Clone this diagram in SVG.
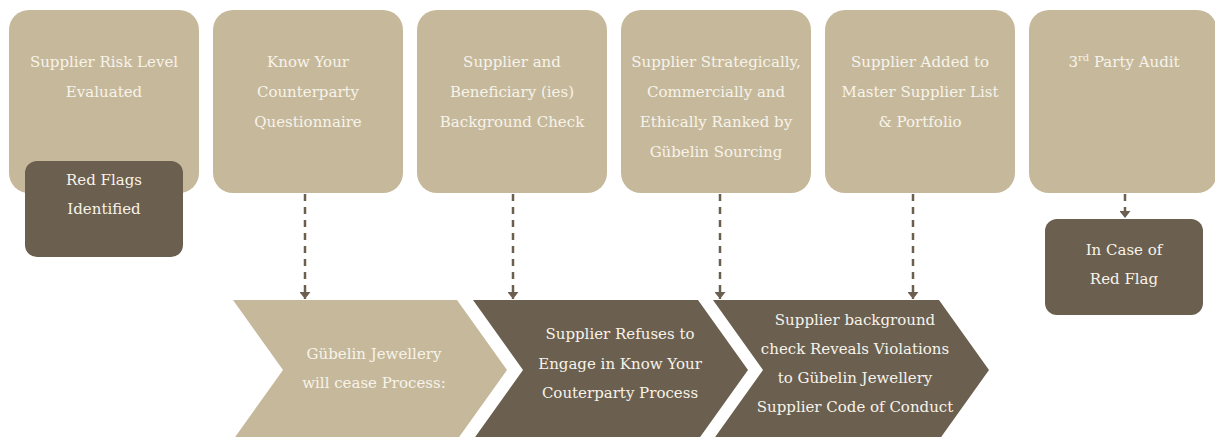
<svg xmlns="http://www.w3.org/2000/svg" width="1215" height="437" viewBox="0 0 1215 437">
<defs>
<style>
.tan{fill:#c6b99b}
.dark{fill:#6b5f4f}
.t{font-family:"DejaVu Serif","Liberation Serif",serif;font-size:15px;fill:#f7f3ea;text-anchor:middle}
.conn{stroke:#6b5f4f;stroke-width:2.5;stroke-dasharray:7 6;fill:none}
</style>
<marker id="arr" viewBox="0 0 7 11" refX="7" refY="5.5" markerWidth="7" markerHeight="11" markerUnits="userSpaceOnUse" orient="auto">
<path d="M0,0 L7,5.5 L0,11 Z" fill="#6b5f4f"/>
</marker>
</defs>
<rect width="1215" height="437" fill="#ffffff"/>

<g id="n1">
<rect class="tan" x="9" y="10" width="190" height="183" rx="20"/>
<text class="t" x="104" y="67">Supplier Risk Level</text>
<text class="t" x="104" y="97">Evaluated</text>
</g>
<g id="n1b">
<rect class="dark" x="25" y="161" width="158" height="96" rx="12"/>
<text class="t" x="104" y="185">Red Flags</text>
<text class="t" x="104" y="214">Identified</text>
</g>
<g id="n2">
<rect class="tan" x="213" y="10" width="190" height="183" rx="20"/>
<text class="t" x="308" y="67">Know Your</text>
<text class="t" x="308" y="97">Counterparty</text>
<text class="t" x="308" y="127">Questionnaire</text>
</g>
<g id="n3">
<rect class="tan" x="417" y="10" width="190" height="183" rx="20"/>
<text class="t" x="512" y="67">Supplier and</text>
<text class="t" x="512" y="97">Beneficiary (ies)</text>
<text class="t" x="512" y="127">Background Check</text>
</g>
<g id="n4">
<rect class="tan" x="621" y="10" width="190" height="183" rx="20"/>
<text class="t" x="716" y="67">Supplier Strategically,</text>
<text class="t" x="716" y="97">Commercially and</text>
<text class="t" x="716" y="127">Ethically Ranked by</text>
<text class="t" x="716" y="157">Gübelin Sourcing</text>
</g>
<g id="n5">
<rect class="tan" x="825" y="10" width="190" height="183" rx="20"/>
<text class="t" x="920" y="67">Supplier Added to</text>
<text class="t" x="920" y="97">Master Supplier List</text>
<text class="t" x="920" y="127">&amp; Portfolio</text>
</g>
<g id="n6">
<rect class="tan" x="1029" y="10" width="188" height="183" rx="20"/>
<text class="t" x="1124" y="67">3<tspan font-size="10" dy="-6">rd</tspan><tspan dy="6"> Party Audit</tspan></text>
</g>
<g id="n6b">
<rect class="dark" x="1045" y="219" width="158" height="96" rx="12"/>
<text class="t" x="1124" y="255">In Case of</text>
<text class="t" x="1124" y="284">Red Flag</text>
</g>

<g id="c1">
<polygon class="tan" points="233,300 457,300 507,370 457,440 233,440 283,370"/>
<text class="t" x="374" y="359">Gübelin Jewellery</text>
<text class="t" x="374" y="388">will cease Process:</text>
</g>
<g id="c2">
<polygon class="dark" points="473,300 698,300 748,370 698,440 473,440 523,370"/>
<text class="t" x="620" y="339">Supplier Refuses to</text>
<text class="t" x="620" y="369">Engage in Know Your</text>
<text class="t" x="620" y="398">Couterparty Process</text>
</g>
<g id="c3">
<polygon class="dark" points="713,300 939,300 989,370 939,440 713,440 763,370"/>
<text class="t" x="855" y="325">Supplier background</text>
<text class="t" x="855" y="354">check Reveals Violations</text>
<text class="t" x="855" y="383">to Gübelin Jewellery</text>
<text class="t" x="855" y="412">Supplier Code of Conduct</text>
</g>

<g id="connectors">
<line class="conn" x1="305" y1="194" x2="305" y2="299" marker-end="url(#arr)"/>
<line class="conn" x1="513" y1="194" x2="513" y2="299" marker-end="url(#arr)"/>
<line class="conn" x1="720" y1="194" x2="720" y2="299" marker-end="url(#arr)"/>
<line class="conn" x1="913" y1="194" x2="913" y2="299" marker-end="url(#arr)"/>
<line class="conn" x1="1125" y1="194" x2="1125" y2="218" marker-end="url(#arr)"/>
</g>
</svg>
